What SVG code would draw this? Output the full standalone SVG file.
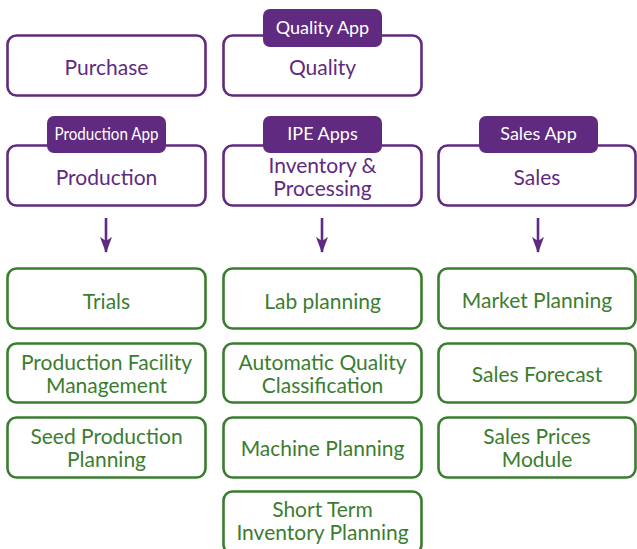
<svg xmlns="http://www.w3.org/2000/svg" width="637" height="549" viewBox="0 0 637 549">
<defs>
<style>
.pbox{fill:#fff;stroke:#5f2a7f;stroke-width:2.6}
.gbox{fill:#fff;stroke:#3b7d2f;stroke-width:2.6}
.tab{fill:#5f2a7f;stroke:none}
text{font-family:Lato,"Open Sans","DejaVu Sans",sans-serif;text-anchor:middle}
.pt{fill:#5f2a7f;font-size:21px}
.gt{fill:#3b7d2f;font-size:21px}
.tt{fill:#fff;font-size:18px}
.arr{stroke:#5f2a7f;stroke-width:2.6;fill:none}
</style>
<marker id="ah" viewBox="0 0 16 12" refX="15" refY="6" markerWidth="16" markerHeight="12" markerUnits="userSpaceOnUse" orient="auto">
<path d="M0,0 L16,6 L0,12 L4,6 Z" fill="#5f2a7f"/>
</marker>
</defs>
<g id="purchase"><rect class="pbox" x="7.5" y="35.5" width="198" height="60" rx="9"/><text class="pt" x="106.5" y="75">Purchase</text></g>
<g id="quality"><rect class="pbox" x="223.5" y="35.5" width="198" height="60" rx="9"/><text class="pt" x="322.5" y="75">Quality</text>
<rect class="tab" x="263" y="9" width="119" height="38" rx="7"/><text class="tt" x="322.5" y="34">Quality App</text></g>
<g id="production"><rect class="pbox" x="7.5" y="145.5" width="198" height="60" rx="9"/><text class="pt" x="106.5" y="185">Production</text>
<rect class="tab" x="47" y="116" width="119" height="37" rx="7"/><text class="tt" x="106.5" y="140" textLength="104" lengthAdjust="spacingAndGlyphs">Production App</text></g>
<g id="inventory"><rect class="pbox" x="223.5" y="145.5" width="198" height="60" rx="9"/><text class="pt" x="322.5" y="173">Inventory &amp;</text><text class="pt" x="322.5" y="196">Processing</text>
<rect class="tab" x="263" y="116" width="119" height="37" rx="7"/><text class="tt" x="322.5" y="140">IPE Apps</text></g>
<g id="sales"><rect class="pbox" x="438.5" y="145.5" width="197" height="60" rx="9"/><text class="pt" x="537" y="185">Sales</text>
<rect class="tab" x="479" y="116" width="119" height="37" rx="7"/><text class="tt" x="538.5" y="140">Sales App</text></g>
<g id="connectors">
<line class="arr" x1="106" y1="218" x2="106" y2="252" marker-end="url(#ah)"/>
<line class="arr" x1="322" y1="218" x2="322" y2="252" marker-end="url(#ah)"/>
<line class="arr" x1="538" y1="218" x2="538" y2="252" marker-end="url(#ah)"/>
</g>
<g id="trials"><rect class="gbox" x="7.5" y="268.5" width="198" height="60" rx="9"/><text class="gt" x="106.5" y="309">Trials</text></g>
<g id="pfm"><rect class="gbox" x="7.5" y="343.5" width="198" height="59" rx="9"/><text class="gt" x="106.5" y="370">Production Facility</text><text class="gt" x="106.5" y="393">Management</text></g>
<g id="spp"><rect class="gbox" x="7.5" y="417.5" width="198" height="60" rx="9"/><text class="gt" x="106.5" y="444">Seed Production</text><text class="gt" x="106.5" y="467">Planning</text></g>
<g id="lab"><rect class="gbox" x="223.5" y="268.5" width="198" height="60" rx="9"/><text class="gt" x="322.5" y="309">Lab planning</text></g>
<g id="aqc"><rect class="gbox" x="223.5" y="343.5" width="198" height="59" rx="9"/><text class="gt" x="322.5" y="370">Automatic Quality</text><text class="gt" x="322.5" y="393">Classification</text></g>
<g id="machine"><rect class="gbox" x="223.5" y="417.5" width="198" height="60" rx="9"/><text class="gt" x="322.5" y="456">Machine Planning</text></g>
<g id="stip"><rect class="gbox" x="223.5" y="491.5" width="198" height="62" rx="9"/><text class="gt" x="322.5" y="517">Short Term</text><text class="gt" x="322.5" y="540">Inventory Planning</text></g>
<g id="market"><rect class="gbox" x="438.5" y="268.5" width="197" height="60" rx="9"/><text class="gt" x="537" y="308">Market Planning</text></g>
<g id="forecast"><rect class="gbox" x="438.5" y="343.5" width="197" height="59" rx="9"/><text class="gt" x="537" y="382">Sales Forecast</text></g>
<g id="prices"><rect class="gbox" x="438.5" y="417.5" width="197" height="60" rx="9"/><text class="gt" x="537" y="444">Sales Prices</text><text class="gt" x="537" y="467">Module</text></g>
</svg>
